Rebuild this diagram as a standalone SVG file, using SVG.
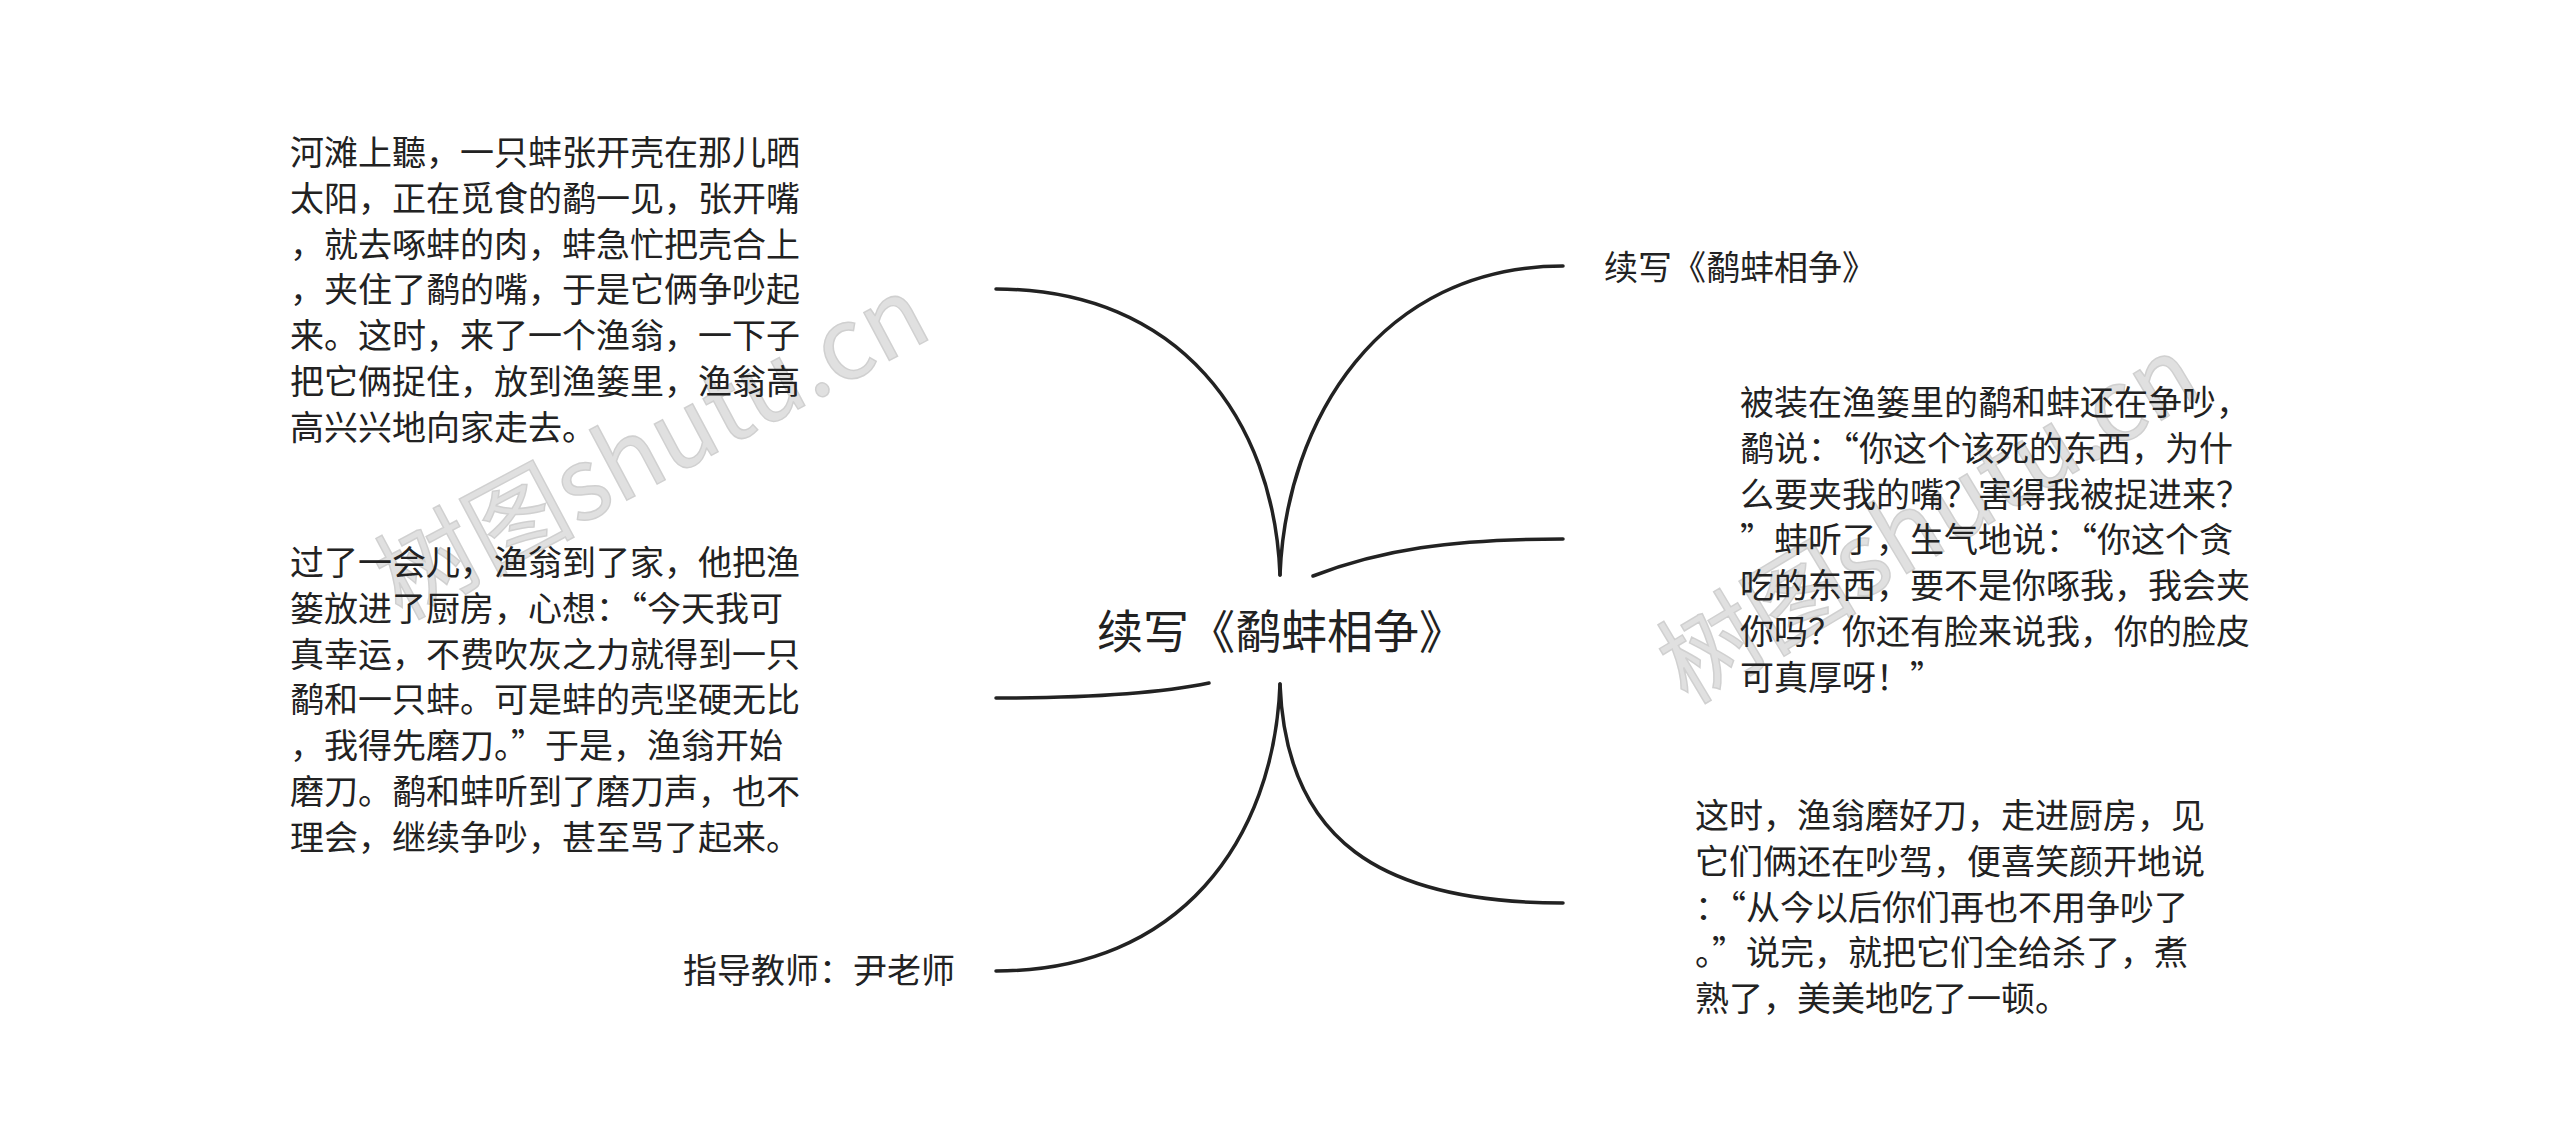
<svg xmlns="http://www.w3.org/2000/svg" width="2560" height="1147" viewBox="0 0 2560 1147">
<style>
  text { font-family: "Noto Sans CJK SC", "Liberation Sans", sans-serif; fill: #222; }
  .t { font-size: 34px; }
  .c { font-size: 46px; }
  .wm { font-size: 100px; fill: #d4d4d4; stroke: #bdbdbd; stroke-width: 1.5; opacity: 0.7; }
  .ln { fill: none; stroke: #222; stroke-width: 3.5; stroke-linecap: round; }
</style>
<rect width="2560" height="1147" fill="#fff"/>
<g id="watermarks">
  <text class="wm" x="653" y="482" text-anchor="middle" transform="rotate(-28 653 450)">树图shutu.cn</text>
  <text class="wm" x="1930" y="554" text-anchor="middle" transform="rotate(-31 1930 522)">树图shutu.cn</text>
</g>
<g id="connectors">
  <path class="ln" d="M996 289 C1180 289 1274 420 1280 575"/>
  <path class="ln" d="M996 698 C1100 698 1170 691 1209 683"/>
  <path class="ln" d="M996 971 C1180 971 1274 840 1280 684"/>
  <path class="ln" d="M1280 575 C1286 420 1380 266 1563 266"/>
  <path class="ln" d="M1313 576 C1380 550 1450 539 1563 539"/>
  <path class="ln" d="M1280 684 C1286 840 1380 903 1563 903"/>
</g>
<g id="center">
  <text class="c" x="1097" y="648">续写《鹬蚌相争》</text>
</g>
<g id="node-left1">
  <text class="t" x="290" y="165">河滩上聽，一只蚌张开壳在那儿晒</text>
  <text class="t" x="290" y="211">太阳，正在觅食的鹬一见，张开嘴</text>
  <text class="t" x="290" y="257">，就去啄蚌的肉，蚌急忙把壳合上</text>
  <text class="t" x="290" y="302">，夹住了鹬的嘴，于是它俩争吵起</text>
  <text class="t" x="290" y="348">来。这时，来了一个渔翁，一下子</text>
  <text class="t" x="290" y="394">把它俩捉住，放到渔篓里，渔翁高</text>
  <text class="t" x="290" y="440">高兴兴地向家走去。</text>
</g>
<g id="node-left2">
  <text class="t" x="290" y="575">过了一会儿，渔翁到了家，他把渔</text>
  <text class="t" x="290" y="621">篓放进了厨房，心想：“今天我可</text>
  <text class="t" x="290" y="667">真幸运，不费吹灰之力就得到一只</text>
  <text class="t" x="290" y="712">鹬和一只蚌。可是蚌的壳坚硬无比</text>
  <text class="t" x="290" y="758">，我得先磨刀。”于是，渔翁开始</text>
  <text class="t" x="290" y="804">磨刀。鹬和蚌听到了磨刀声，也不</text>
  <text class="t" x="290" y="850">理会，继续争吵，甚至骂了起来。</text>
</g>
<g id="node-left3">
  <text class="t" x="683" y="983">指导教师：尹老师</text>
</g>
<g id="node-right1">
  <text class="t" x="1604" y="280">续写《鹬蚌相争》</text>
</g>
<g id="node-right2">
  <text class="t" x="1740" y="415">被装在渔篓里的鹬和蚌还在争吵，</text>
  <text class="t" x="1740" y="461">鹬说：“你这个该死的东西，为什</text>
  <text class="t" x="1740" y="507">么要夹我的嘴？害得我被捉进来？</text>
  <text class="t" x="1740" y="552">”蚌听了，生气地说：“你这个贪</text>
  <text class="t" x="1740" y="598">吃的东西，要不是你啄我，我会夹</text>
  <text class="t" x="1740" y="644">你吗？你还有脸来说我，你的脸皮</text>
  <text class="t" x="1740" y="690">可真厚呀！”</text>
</g>
<g id="node-right3">
  <text class="t" x="1695" y="828">这时，渔翁磨好刀，走进厨房，见</text>
  <text class="t" x="1695" y="874">它们俩还在吵驾，便喜笑颜开地说</text>
  <text class="t" x="1695" y="920">：“从今以后你们再也不用争吵了</text>
  <text class="t" x="1695" y="965">。”说完，就把它们全给杀了，煮</text>
  <text class="t" x="1695" y="1011">熟了，美美地吃了一顿。</text>
</g>
</svg>
